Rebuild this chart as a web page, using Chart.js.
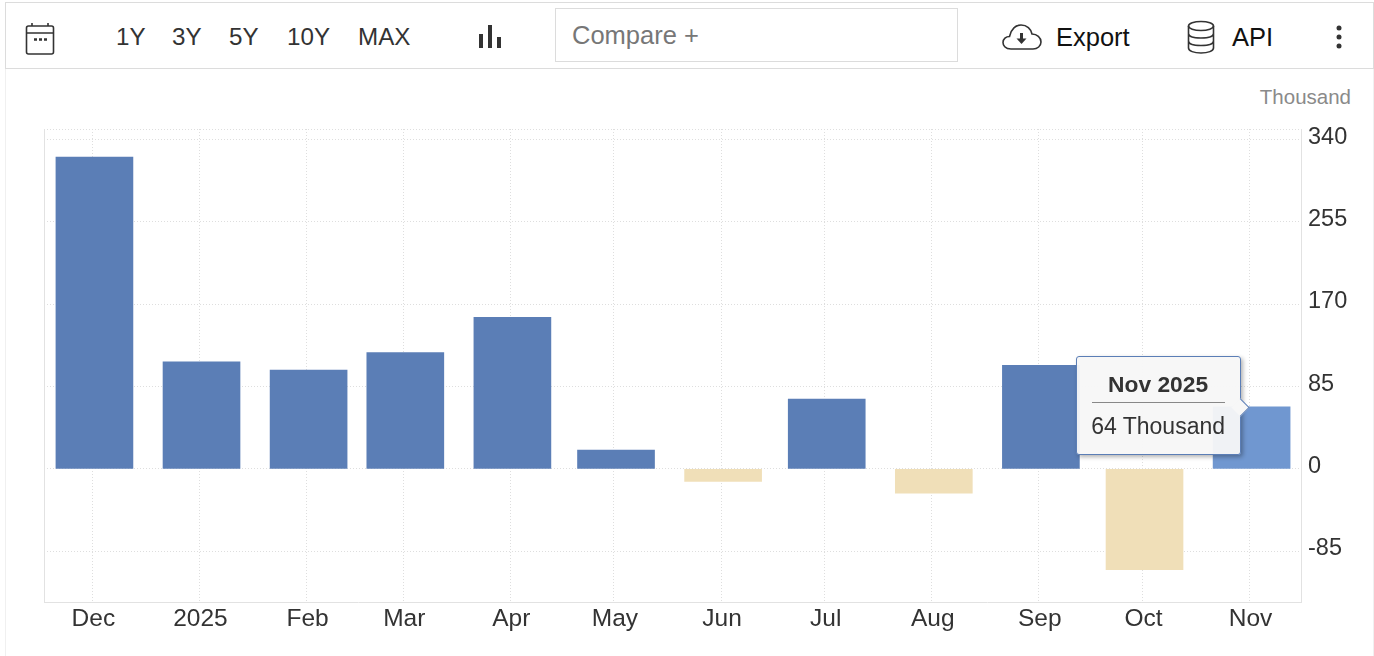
<!DOCTYPE html>
<html>
<head>
<meta charset="utf-8">
<title>Chart</title>
<script src="https://cdn.jsdelivr.net/npm/chart.js@4/dist/chart.umd.min.js"></script>
<style>
    html, body { margin: 0; padding: 0; background: #fff; overflow: hidden; }
    body { width: 1374px; height: 656px; position: relative; font-family: "Liberation Sans", Arial, sans-serif; }
    #frame { position: absolute; left: 5px; top: 2px; width: 1367px; height: 654px; border: solid #f0f0f0; border-width: 0 1px; }
    #toolbar { position: absolute; left: 5px; top: 2px; width: 1367px; height: 65px; border: 1px solid #dcdcdc; }
    .btn { position: absolute; top: 37px; transform: translateY(-50%); font-size: 24.2px; color: #333; white-space: nowrap; }
    .dark { color: #111; font-size: 25.5px; }
    #compare { position: absolute; left: 555px; top: 8px; width: 401px; height: 52px; border: 1px solid #dcdcdc; color: #777; font-size: 25.5px; line-height: 52px; text-indent: 16px; }
    #unit { position: absolute; right: 23px; top: 85px; font-size: 20.5px; color: #8a8a8a; }
    svg { position: absolute; fill: none; stroke: #333; stroke-width: 1.6; }
    canvas { position: absolute; left: 0; top: 0; }
    #tip { position: absolute; display: none; box-sizing: border-box; width: 165px; height: 99px; background: rgba(247,247,247,0.95); border: 1px solid #5b7eb6; border-radius: 3px; box-shadow: 2px 2px 4px rgba(0,0,0,0.3); color: #333; text-align: center; }
    #tip .head { font-weight: bold; font-size: 22.8px; margin: 14px 15px 0; padding-bottom: 4px; border-bottom: 1px solid #888; line-height: 27px; }
    #tip .val { font-size: 23px; margin-top: 10px; line-height: 27px; }
    #tip .arrow { position: absolute; right: -7px; top: 44px; width: 12px; height: 12px; background: #f7f7f7; border-right: 1px solid #5b7eb6; border-top: 1px solid #5b7eb6; transform: rotate(45deg); }
</style>
</head>
<body>
<div id="frame"></div>
<div id="toolbar"></div>

<svg style="left:25px;top:22px" width="30" height="34" viewBox="0 0 30 34">
    <rect x="1.5" y="4" width="27" height="28" rx="2"/><path d="M1.5 11H28.5M7 1V4M23 1V4"/>
    <path d="M9 17.500H12M14 17.500H17M19 17.500H22" stroke-width="2.500"/>
</svg>
<span class="btn" style="left:116px">1Y</span>
<span class="btn" style="left:172px">3Y</span>
<span class="btn" style="left:229px">5Y</span>
<span class="btn" style="left:287px">10Y</span>
<span class="btn" style="left:358px">MAX</span>
<svg style="left:478px;top:24px" width="24" height="26" viewBox="0 0 24 26">
    <path d="M3 10V24M12 1V24M21 13V24" stroke-width="4"/>
</svg>
<div id="compare">Compare +</div>
<svg style="left:1002px;top:22px" width="40" height="30" viewBox="0 0 40 30">
    <path d="M9 27C3 27 1 23 1 20.500C1 17 4 14.500 7.500 14.500C9 7 14 3 19 3C25 3 29 7 30 12C35 12 39 15.500 39 20C39 24 35.500 27 31 27Z"/>
    <circle cx="19.500" cy="17" r="8" stroke="none" fill="#fff"/>
    <path d="M19.500 11V18" stroke-width="3"/><path d="M14.500 16.500H24.500L19.500 22Z" fill="#333" stroke="none"/>
</svg>
<span class="btn dark" style="left:1056px">Export</span>
<svg style="left:1187px;top:20px" width="28" height="34" viewBox="0 0 28 34">
    <ellipse cx="14" cy="6" rx="12.500" ry="4.500"/>
    <path d="M1.500 6V28C1.500 31 7 33 14 33C21 33 26.500 31 26.500 28V6M1.500 13.500C1.500 16.500 7 18 14 18C21 18 26.500 16.500 26.500 13.500M1.500 21C1.500 24 7 25.500 14 25.500C21 25.500 26.500 24 26.500 21"/>
</svg>
<span class="btn dark" style="left:1232px">API</span>
<svg style="left:1334px;top:24px" width="10" height="26" viewBox="0 0 10 26">
    <circle cx="5" cy="4" r="2.500" fill="#333" stroke="none"/><circle cx="5" cy="13" r="2.500" fill="#333" stroke="none"/><circle cx="5" cy="22" r="2.500" fill="#333" stroke="none"/>
</svg>
<div id="unit">Thousand</div>

<canvas id="chart" width="1374" height="656"></canvas>
<div id="tip"><div class="head"></div><div class="val"></div><div class="arrow"></div></div>

<script>
// values, in thousands
const monthLabels = ['Dec', '2025', 'Feb', 'Mar', 'Apr', 'May', 'Jun', 'Jul', 'Aug', 'Sep', 'Oct', 'Nov'];
const dayOffsets = [0, 31, 62, 90, 121, 151, 182, 212, 243, 274, 304, 335];
const changes = [322, 110.5, 102, 120, 156.5, 19.5, -13, 72, -25, 107, -104, 64];
const yTicks = [-85, 0, 85, 170, 255, 340];
const activeTitle = 'Nov 2025';
const unitName = 'Thousand';

const activeIndex = monthLabels.length - 1;
const yMin = -137.5;
const yMax = 351;
// gridlines sit a little left of the bar centres
const gridDays = dayOffsets.map((d) => d - 0.6);

function drawTip(context) {
    const model = context.tooltip;
    const tip = document.getElementById('tip');
    if (model.opacity === 0) {
        tip.style.display = 'none';
        return;
    }
    tip.querySelector('.head').textContent = model.title[0];
    tip.querySelector('.val').textContent = model.body[0].lines[0];
    tip.style.display = 'block';
    tip.style.left = (model.caretX - 176) + 'px';
    tip.style.top = (model.caretY - 51) + 'px';
}

const chart = new Chart(document.getElementById('chart'), {
    type: 'bar',
    data: {
        datasets: [{
            data: dayOffsets.map((d, i) => ({ x: d, y: changes[i] })),
            barThickness: 77,
            backgroundColor: (ctx) => {
                if (ctx.dataIndex === activeIndex) return '#7097d0';
                return ctx.raw && ctx.raw.y < 0 ? '#f0dfb8' : '#5b7eb6';
            },
        }],
    },
    options: {
        responsive: false,
        animation: false,
        events: [],
        layout: { padding: { left: 44, top: 129, right: 0, bottom: 0 } },
        plugins: {
            legend: { display: false },
            tooltip: {
                enabled: false,
                external: drawTip,
                callbacks: {
                    title: () => activeTitle,
                    label: (item) => item.parsed.y + ' ' + unitName,
                },
            },
        },
        scales: {
            x: {
                type: 'linear',
                offset: false,
                min: -14.6,
                max: 349.3,
                afterFit: (scale) => { scale.height = 54; },
                afterBuildTicks: (scale) => { scale.ticks = gridDays.map((v) => ({ value: v })); },
                grid: { offset: false, color: '#dedede', drawTicks: false },
                border: { display: true, color: '#e2e2e2', width: 1, dash: [1, 2] },
                ticks: {
                    color: '#333',
                    font: { family: 'Liberation Sans', size: 24.5 },
                    padding: 3,
                    labelOffset: 1,
                    maxRotation: 0,
                    autoSkip: false,
                    callback: (value, index) => monthLabels[index],
                },
            },
            y: {
                position: 'right',
                min: yMin,
                max: yMax,
                afterFit: (scale) => { scale.width = 73; },
                afterBuildTicks: (scale) => { scale.ticks = yTicks.concat([yMax]).map((v) => ({ value: v })); },
                grid: { color: '#dedede', drawTicks: false },
                border: { display: true, color: '#e2e2e2', width: 1, dash: [1, 2] },
                ticks: {
                    color: '#333',
                    font: { family: 'Liberation Sans', size: 23.5 },
                    padding: 7,
                    labelOffset: -2.5,
                    autoSkip: false,
                    callback: (value) => (value === yMax ? '' : value),
                },
            },
            yLeft: {
                position: 'left',
                min: yMin,
                max: yMax,
                afterFit: (scale) => { scale.width = 0; },
                grid: { display: false, drawTicks: false },
                border: { display: true, color: '#e2e2e2', width: 1 },
                ticks: { display: false },
            },
        },
    },
});

chart.tooltip.setActiveElements([{ datasetIndex: 0, index: activeIndex }], { x: 0, y: 0 });
chart.update();
</script>
</body>
</html>
